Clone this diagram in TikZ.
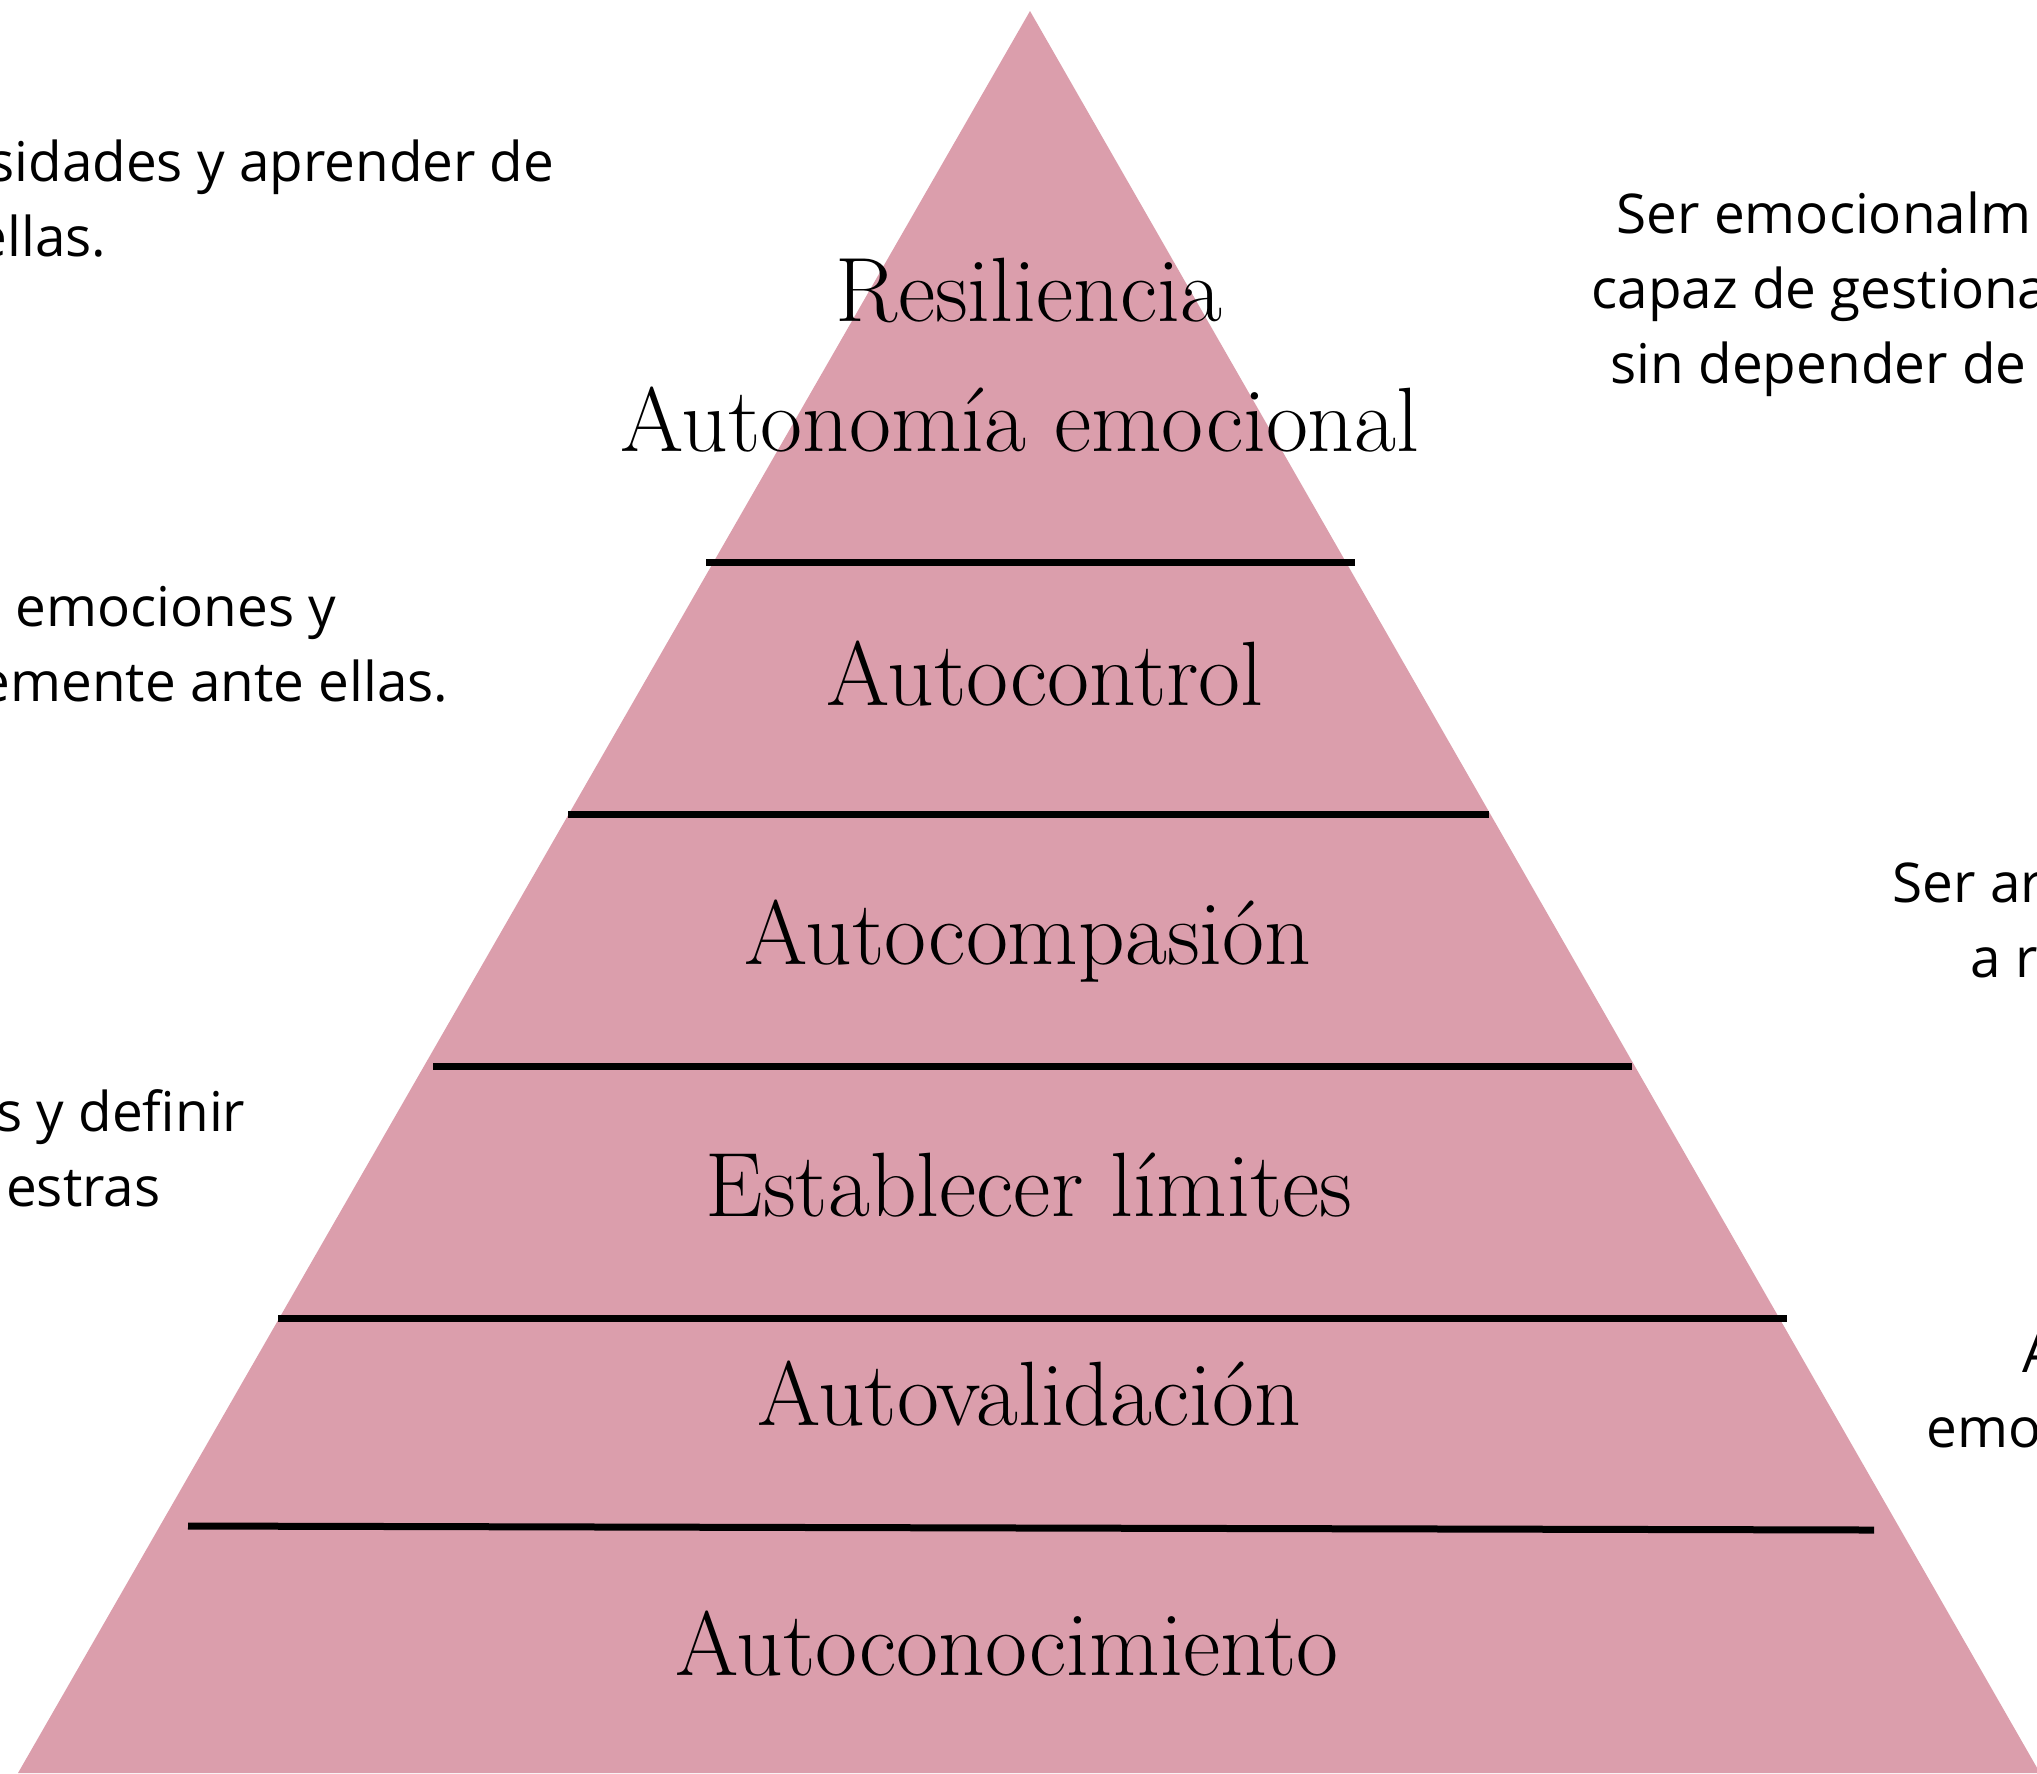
\documentclass[tikz,border=0pt]{standalone}
\usepackage{fontspec}
\newfontfamily\sidefont{Open Sans}
\definecolor{pyrpink}{RGB}{219,158,172}

\begin{document}
\begin{tikzpicture}[x=0.1mm,y=-0.1mm,
    level/.style={font=\fontsize{26}{31}\selectfont,anchor=base,inner sep=0},
    side/.style={font=\sidefont\fontsize{15.6}{19}\selectfont,inner sep=0},
    bar/.style={line width=0.7mm,black}]
    \useasboundingbox (0,0) rectangle (2037,1773);
    \clip (0,0) rectangle (2037,1773);
    \fill[pyrpink] (1030,11) -- (2040,1773) -- (18,1773) -- cycle;
    \draw[bar] (706,562) -- (1355,562);
    \draw[bar] (568,814) -- (1489,814);
    \draw[bar] (433,1066) -- (1632,1066);
    \draw[bar] (278,1318) -- (1787,1318);
    \draw[bar] (188,1526) -- (1874,1530);
    \node[level] (resil) at (1029,321) {Resiliencia};
    \node[level] (auton) at (1020,451) {Autonomía emocional};
    \node[level] (contr) at (1045,705) {Autocontrol};
    \node[level] (compa) at (1028,964) {Autocompasión};
    \node[level] (limit) at (1029,1216) {Establecer límites};
    \node[level] (valid) at (1029,1425) {Autovalidación};
    \node[level] (conoc) at (1007,1675) {Autoconocimiento};
    \node[side,anchor=base east] (l1a) at (555,181) {sidades y aprender de};
    \node[side,anchor=base east] (l1b) at (107,256) {ellas.};
    \node[side,anchor=base east] (l2a) at (337,626) {emociones y};
    \node[side,anchor=base east] (l2b) at (449,701) {emente ante ellas.};
    \node[side,anchor=base east] (l3a) at (246,1131) {s y definir};
    \node[side,anchor=base east] (l3b) at (161,1206) {estras};
    \node[side,anchor=base west] (r1a) at (1616,233) {Ser emocionalm};
    \node[side,anchor=base west] (r1b) at (1591,308) {capaz de gestiona};
    \node[side,anchor=base west] (r1c) at (1610,383) {sin depender de};
    \node[side,anchor=base west] (r2a) at (1892,902) {Ser ar};
    \node[side,anchor=base west] (r2b) at (1970,977) {a r};
    \node[side,anchor=base west] (r3a) at (2022,1372) {A};
    \node[side,anchor=base west] (r3b) at (1926,1447) {emo};
\end{tikzpicture}
\end{document}
